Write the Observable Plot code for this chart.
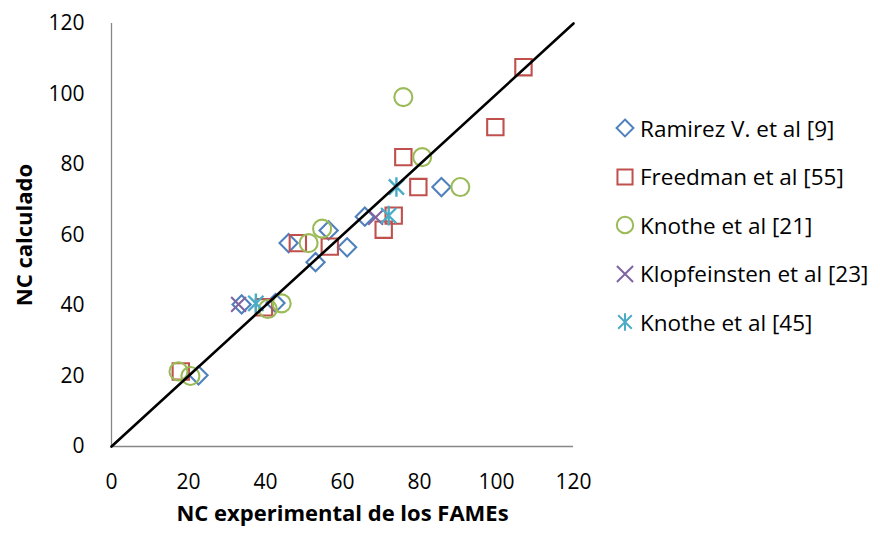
<!DOCTYPE html>
<html>
<head>
<meta charset="utf-8">
<script src="https://cdn.jsdelivr.net/npm/d3@7"></script>
<script src="https://cdn.jsdelivr.net/npm/@observablehq/plot@0.6"></script>
<style>
  html, body { margin: 0; padding: 0; background: #ffffff; }
  #wrap { position: relative; width: 880px; height: 535px; font-family: "Open Sans", Lato, sans-serif; }
  #legend { position: absolute; left: 614px; top: 104px; }
  .item { display: flex; align-items: center; height: 48.5px; font-size: 22.5px; color: #000; white-space: nowrap; }
  .item svg { margin-right: 4px; }
</style>
</head>
<body>
<div id="wrap"><div id="legend"></div></div>
<script>
// ---- data ----
const seriesNames = ["Ramirez V. et al [9]", "Freedman et al [55]", "Knothe et al [21]", "Klopfeinsten et al [23]", "Knothe et al [45]"];
const seriesColors = ["#4F81BD", "#C0504D", "#9BBB59", "#8064A2", "#4BACC6"];

const ramirezX = [22.6, 33.8, 42.6, 46.0, 53.0, 56.4, 61.2, 65.8, 85.7];
const ramirezY = [20.2, 40.3, 40.7, 57.7, 52.3, 61.3, 56.5, 65.2, 73.6];

const freedmanX = [18.0, 39.6, 48.4, 56.7, 70.7, 73.3, 75.8, 79.7, 99.7, 107.0];
const freedmanY = [21.3, 39.5, 57.7, 56.7, 61.5, 65.5, 82.1, 73.6, 90.6, 107.6];

const knothe21X = [17.4, 20.5, 40.6, 44.2, 51.2, 54.7, 75.8, 80.7, 90.6];
const knothe21Y = [21.3, 20.0, 39.0, 40.6, 57.7, 61.8, 99.1, 82.1, 73.6];

const klopX = [33.0, 68.6];
const klopY = [40.3, 65.0];

const knothe45X = [37.5, 72.0, 74.0];
const knothe45Y = [40.6, 65.5, 73.6];

const identityLine = [0, 120];
const axisTicks = [0, 20, 40, 60, 80, 100, 120];
const xTitle = "NC experimental de los FAMEs";
const yTitle = "NC calculado";

// ---- symbols ----
const excelStar = {
  draw(context, size) {
    const r = Math.sqrt(size) * 0.6;
    const d = r * 0.78;
    context.moveTo(0, -r); context.lineTo(0, r);
    context.moveTo(-d, -d); context.lineTo(d, d);
    context.moveTo(-d, d); context.lineTo(d, -d);
  }
};
const seriesSymbols = ["diamond2", "square2", "circle", "times", excelStar];
const seriesR = [8.2, 10.4, 9.0, 6.8, 9.2];
const seriesSW = [2.1, 2.1, 2.1, 2.1, 2.4];
const seriesX = [ramirezX, freedmanX, knothe21X, klopX, knothe45X];
const seriesY = [ramirezY, freedmanY, knothe21Y, klopY, knothe45Y];

const tables = seriesX.map((xs, s) => xs.map((x, i) => ({x, y: seriesY[s][i]})));

const seriesMarks = tables.map((t, s) =>
  Plot.dot(t, {x: "x", y: "y", symbol: () => seriesSymbols[s], r: seriesR[s],
    stroke: seriesColors[s], strokeWidth: seriesSW[s], fill: "none"})
);

const chart = Plot.plot({
  width: 880,
  height: 535,
  marginLeft: 111,
  marginRight: 307,
  marginTop: 23,
  marginBottom: 89,
  style: {fontFamily: "'Open Sans', Lato, sans-serif", fontSize: "21px", color: "#000", background: "transparent"},
  x: {domain: [0, 120]},
  y: {domain: [0, 120]},
  symbol: {type: "identity"},
  marks: [
    Plot.axisX({ticks: axisTicks, tickSize: 0, tickPadding: 28, label: null, fontSize: 21}),
    Plot.axisY({ticks: axisTicks, tickSize: 0, tickPadding: 27, label: null, fontSize: 21}),
    Plot.ruleX([0], {stroke: "#878787", strokeWidth: 1.3}),
    Plot.ruleY([0], {stroke: "#878787", strokeWidth: 1.3}),
    ...seriesMarks,
    Plot.line(identityLine, {x: d => d, y: d => d, stroke: "#000", strokeWidth: 2.6}),
    Plot.text([xTitle], {frameAnchor: "bottom", dy: 74, fontWeight: "bold", fontSize: 22, fill: "#000"}),
    Plot.text([yTitle], {frameAnchor: "left", textAnchor: "middle", lineAnchor: "middle", dx: -87, rotate: -90, fontWeight: "bold", fontSize: 22, fill: "#000"})
  ]
});
document.getElementById("wrap").prepend(chart);

// ---- legend ----
const legend = d3.select("#legend");
const legendSymbols = [d3.symbolDiamond2, d3.symbolSquare2, d3.symbolCircle, d3.symbolTimes, excelStar];
const legendR = [7.6, 9.6, 8.2, 7.4, 8.2];
seriesNames.forEach((name, s) => {
  const item = legend.append("div").attr("class", "item");
  const svg = item.append("svg").attr("width", 22).attr("height", 22);
  const r = legendR[s];
  svg.append("path")
    .attr("transform", "translate(11,11)")
    .attr("d", d3.symbol(legendSymbols[s], r * r * Math.PI)())
    .attr("fill", "none")
    .attr("stroke", seriesColors[s])
    .attr("stroke-width", 2);
  item.append("span").text(name);
});
</script>
</body>
</html>
